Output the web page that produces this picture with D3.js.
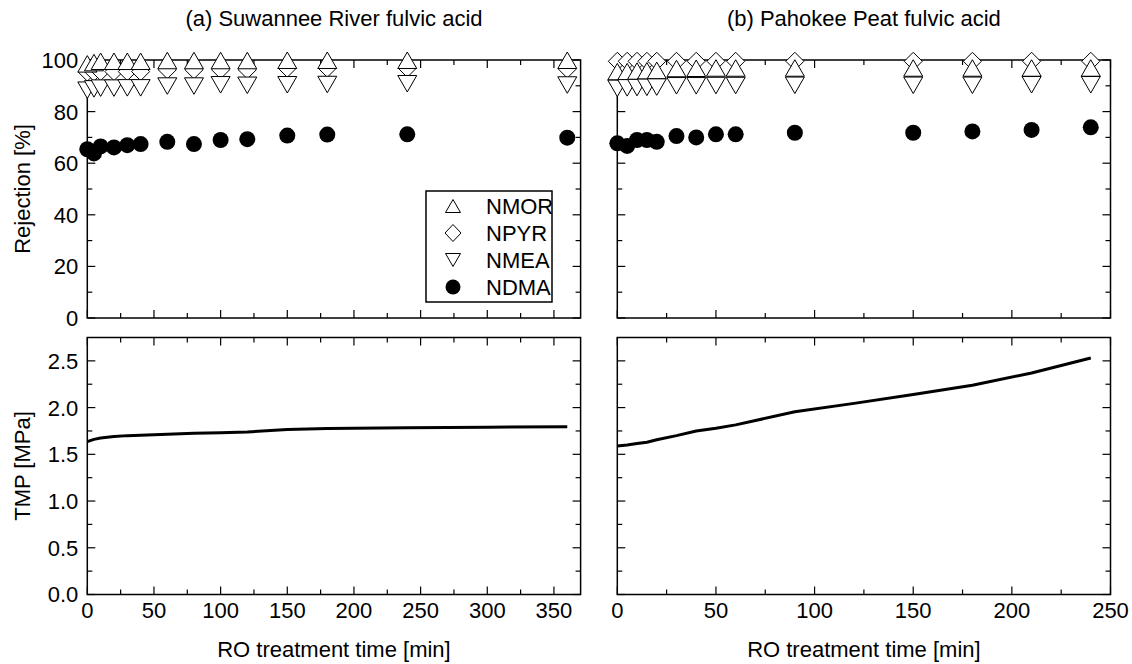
<!DOCTYPE html>
<html><head><meta charset="utf-8">
<script src="https://cdn.jsdelivr.net/npm/d3@7/dist/d3.min.js"></script>
<style>
body{margin:0;background:#fff}
text{font-family:"Liberation Sans",Arial,sans-serif;fill:#000}
</style>
</head><body>
<svg id="c" width="1132" height="664"></svg>
<script>
// ---- Data: (a) Suwannee River fulvic acid ----
const timeA = [0,5,10,20,30,40,60,80,100,120,150,180,240,360];
const nmorA = [98.5,99,99.5,99.5,99.5,99.5,99.8,99.8,99.8,99.8,99.9,99.9,99.9,99.9];
const npyrA = [95.3,95.3,95.5,95.5,95.5,95.5,96.2,96.2,96.2,96.2,96.8,96.8,96.8,96.5];
const nmeaA = [88.3,88.8,89.1,89.1,89.2,89.2,89.9,89.9,90.4,90.2,90.4,90.5,90.8,90.3];
const ndmaA = [65.4,63.8,66.5,66.1,67.0,67.4,68.3,67.4,69.0,69.3,70.7,71.1,71.2,69.9];
const tmpTimeA = [0,5,10,20,30,40,60,80,100,120,150,180,240,300,360];
const tmpA = [1.635,1.66,1.675,1.69,1.70,1.705,1.715,1.725,1.73,1.74,1.765,1.775,1.785,1.79,1.795];

// ---- Data: (b) Pahokee Peat fulvic acid ----
const timeB = [0,5,10,15,20,30,40,50,60,90,150,180,210,240];
const nmorB = [95.5,95.5,95.7,95.8,96,96.7,96.8,96.9,96.9,96.9,96.9,96.9,96.9,96.9];
const npyrB = [99.5,99.5,99.5,99.5,99.5,99.5,99.5,99.5,99.5,99.5,99.5,99.5,99.5,99.5];
const nmeaB = [89.0,89.2,89.3,89.4,89.5,90.0,90.0,90.1,90.1,90.2,90.2,90.2,90.4,90.4];
const ndmaB = [67.7,66.7,69.0,69.0,68.3,70.5,70.0,71.2,71.2,71.8,71.8,72.3,72.9,73.9];
const tmpTimeB = [0,5,10,15,20,30,40,50,60,90,120,150,180,210,240];
const tmpB = [1.59,1.60,1.615,1.63,1.655,1.70,1.75,1.78,1.815,1.955,2.045,2.14,2.24,2.37,2.53];

// ---- Labels ----
const titles = ["(a) Suwannee River fulvic acid","(b) Pahokee Peat fulvic acid"];
const xTitle = "RO treatment time [min]";
const yTitleTop = "Rejection [%]";
const yTitleBottom = "TMP [MPa]";
const legendNames = ["NMOR","NPYR","NMEA","NDMA"];
const rejTicks = [0,20,40,60,80,100];
const tmpTicks = [0,0.5,1.0,1.5,2.0,2.5];

const svg = d3.select("#c");
const FS = 22;

const topY = d3.scaleLinear().domain([0,100]).range([318,60]);
const botY = d3.scaleLinear().domain([0,2.75]).range([594.5,337.5]);

const panels = [
  {x: d3.scaleLinear().domain([0,370]).range([87.3,580.6]), xMax:350, title:titles[0], yLabels:true,
   t:timeA, nmor:nmorA, npyr:npyrA, nmea:nmeaA, ndma:ndmaA, tt:tmpTimeA, tmp:tmpA},
  {x: d3.scaleLinear().domain([0,250]).range([617.3,1110.5]), xMax:250, title:titles[1], yLabels:false,
   t:timeB, nmor:nmorB, npyr:npyrB, nmea:nmeaB, ndma:ndmaB, tt:tmpTimeB, tmp:tmpB}
];

const up = (w,h)=>`M0,${-h/2}L${w/2},${h/2}L${-w/2},${h/2}Z`;
const down = (w,h)=>`M0,${h/2}L${w/2},${-h/2}L${-w/2},${-h/2}Z`;
const diamond = (w,h)=>`M0,${-h/2}L${w/2},0L0,${h/2}L${-w/2},0Z`;

function frame(g, x, y, xStep, xMinor, yStep, yMinor, xMaxTick, yMaxTick, showX, showY, fmtY){
  const [x0,x1] = x.range(); const [y0,y1] = y.range(); // y0 bottom, y1 top
  const ax = g.append("g").attr("stroke","#000").attr("stroke-width",1.2);
  // x ticks
  for(let v=0; v<=xMaxTick+1e-9; v+=xMinor){
    const major = Math.abs(v/xStep - Math.round(v/xStep))<1e-6;
    const L = major?8:5; const px = x(v);
    ax.append("line").attr("x1",px).attr("x2",px).attr("y1",y0).attr("y2",y0-L);
    ax.append("line").attr("x1",px).attr("x2",px).attr("y1",y1).attr("y2",y1+L);
    if(major && showX){
      g.append("text").attr("x",px).attr("y",618).attr("text-anchor","middle")
       .attr("font-size",FS).text(d3.format("d")(v));
    }
  }
  for(let v=0; v<=yMaxTick+1e-9; v+=yMinor){
    const major = Math.abs(v/yStep - Math.round(v/yStep))<1e-6;
    const L = major?8:5; const py = y(v);
    ax.append("line").attr("x1",x0).attr("x2",x0+L).attr("y1",py).attr("y2",py);
    ax.append("line").attr("x1",x1).attr("x2",x1-L).attr("y1",py).attr("y2",py);
    if(major && showY){
      g.append("text").attr("x",x0-9).attr("y",py).attr("dy","0.36em").attr("text-anchor","end")
       .attr("font-size",FS).text(fmtY(v));
    }
  }
  g.append("rect").attr("x",x0).attr("y",y1).attr("width",x1-x0).attr("height",y0-y1)
   .attr("fill","none").attr("stroke","#000").attr("stroke-width",1.5);
}

panels.forEach(p=>{
  const g = svg.append("g");
  const x = p.x;
  const cx = (x.range()[0]+x.range()[1])/2;
  g.append("text").attr("x",cx).attr("y",26).attr("text-anchor","middle").attr("font-size",FS).text(p.title);
  g.append("text").attr("x",cx).attr("y",657).attr("text-anchor","middle").attr("font-size",FS).text(xTitle);

  frame(g, x, topY, 50, 25, 20, 10, p.xMax, 100, false, p.yLabels, d3.format("d"));
  frame(g, x, botY, 50, 25, 0.5, 0.25, p.xMax, 2.5, true, p.yLabels, d3.format(".1f"));

  // markers
  const m = g.append("g").attr("stroke","#000").attr("stroke-width",1).attr("fill","#fff");
  p.t.forEach((t,i)=> m.append("path").attr("d",diamond(18,18)).attr("transform",`translate(${x(t)},${topY(p.npyr[i])})`));
  p.t.forEach((t,i)=> m.append("path").attr("d",up(19,16.5)).attr("transform",`translate(${x(t)},${topY(p.nmor[i])})`));
  p.t.forEach((t,i)=> m.append("path").attr("d",down(19,16.5)).attr("transform",`translate(${x(t)},${topY(p.nmea[i])})`));
  g.append("g").selectAll("circle").data(p.t).join("circle")
    .attr("cx",d=>x(d)).attr("cy",(d,i)=>topY(p.ndma[i])).attr("r",8).attr("fill","#000");

  // TMP line
  const line = d3.line().x(d=>x(d[0])).y(d=>botY(d[1]));
  g.append("path").attr("d",line(p.tt.map((t,i)=>[t,p.tmp[i]])))
   .attr("fill","none").attr("stroke","#000").attr("stroke-width",3).attr("stroke-linejoin","round");
});

// y titles
svg.append("text").attr("transform",`translate(22,${(topY.range()[0]+topY.range()[1])/2}) rotate(-90)`)
  .attr("text-anchor","middle").attr("dy","0.36em").attr("font-size",FS).text(yTitleTop);
svg.append("text").attr("transform",`translate(22,${(botY.range()[0]+botY.range()[1])/2}) rotate(-90)`)
  .attr("text-anchor","middle").attr("dy","0.36em").attr("font-size",FS).text(yTitleBottom);

// legend
const lg = svg.append("g");
lg.append("rect").attr("x",426).attr("y",191).attr("width",126).attr("height",111)
  .attr("fill","#fff").attr("stroke","#000").attr("stroke-width",1.5);
const rowY = d3.scalePoint().domain(legendNames).range([206,287]);
const shapes = [up(15,13), diamond(16,17), down(15,13)];
legendNames.forEach((n,i)=>{
  const yy = rowY(n);
  if(i<3) lg.append("path").attr("d",shapes[i]).attr("transform",`translate(453,${yy})`)
    .attr("fill","#fff").attr("stroke","#000").attr("stroke-width",1);
  else lg.append("circle").attr("cx",453).attr("cy",yy).attr("r",7.5).attr("fill","#000");
  lg.append("text").attr("x",486).attr("y",yy).attr("dy","0.36em").attr("font-size",FS).text(n);
});
</script>
</body></html>
